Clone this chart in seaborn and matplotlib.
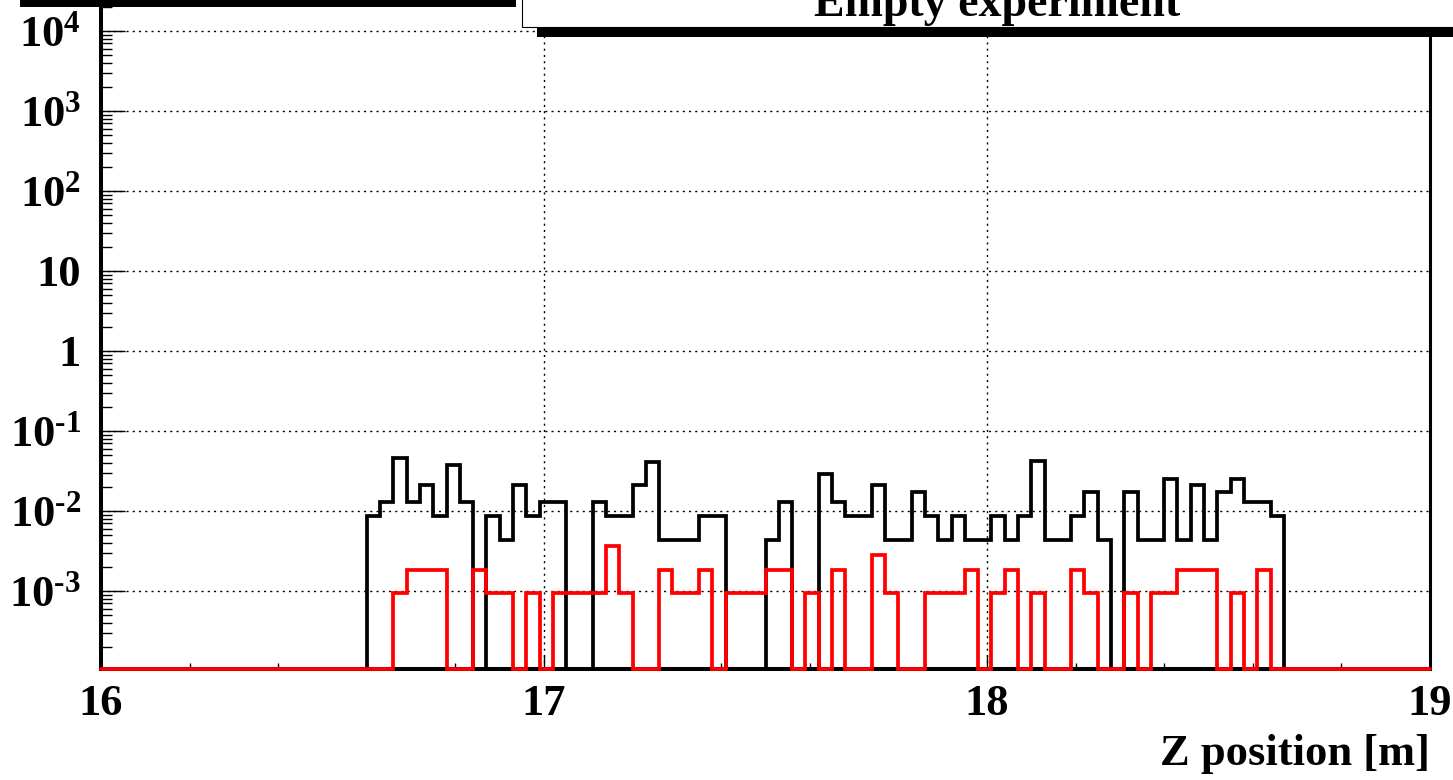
import numpy as np
import pandas as pd
import matplotlib
matplotlib.use('Agg')
import matplotlib.pyplot as plt
import seaborn as sns
from matplotlib.patches import Rectangle
from matplotlib.ticker import LogLocator, MultipleLocator, NullFormatter, FixedLocator

# ---------------- data ----------------
z_min, z_max, n_bins = 16.0, 19.0, 100
first_bin = 20  # first non-empty bin index (z = 16.6)

# black histogram, bins 20..88
black_vals = [0.0086, 0.0128, 0.0456, 0.0128, 0.0214, 0.0086, 0.0376, 0.0128, 0.0,
              0.0086, 0.0043, 0.0214, 0.0086, 0.0128, 0.0128, 0.0, 0.0, 0.0128,
              0.0086, 0.0086, 0.0214, 0.0413, 0.0043, 0.0043, 0.0043, 0.0086, 0.0086,
              0.0, 0.0, 0.0, 0.0043, 0.0128, 0.0, 0.0, 0.0290, 0.0128,
              0.0086, 0.0086, 0.0214, 0.0043, 0.0043, 0.0171, 0.0086, 0.0043, 0.0086,
              0.0043, 0.0043, 0.0086, 0.0043, 0.0086, 0.0420, 0.0043, 0.0043, 0.0086,
              0.0171, 0.0043, 0.0, 0.0171, 0.0043, 0.0043, 0.0250, 0.0043, 0.0214,
              0.0043, 0.0171, 0.0250, 0.0128, 0.0128, 0.0086]

# red histogram, bins 20..88
red_vals = [0.0, 0.0, 0.00095, 0.00185, 0.00185, 0.00185, 0.0, 0.0, 0.00185,
            0.00095, 0.00095, 0.0, 0.00095, 0.0, 0.00095, 0.00095, 0.00095, 0.00095,
            0.0037, 0.00095, 0.0, 0.0, 0.00185, 0.00095, 0.00095, 0.00185, 0.0,
            0.00095, 0.00095, 0.00095, 0.00185, 0.00185, 0.0, 0.00095, 0.0, 0.00185,
            0.0, 0.0, 0.0028, 0.00095, 0.0, 0.0, 0.00095, 0.00095, 0.00095,
            0.00185, 0.0, 0.00095, 0.00185, 0.0, 0.00095, 0.0, 0.0, 0.00185,
            0.00095, 0.0, 0.0, 0.00095, 0.0, 0.00095, 0.00095, 0.00185, 0.00185,
            0.00185, 0.0, 0.00095, 0.0, 0.00185, 0.0]

y_ticks = [1e-3, 1e-2, 1e-1, 1, 10, 1e2, 1e3, 1e4]
y_tick_labels = [r'$10^{\text{-}3}$', r'$10^{\text{-}2}$', r'$10^{\text{-}1}$', '1', '10',
                 r'$10^{2}$', r'$10^{3}$', r'$10^{4}$']
x_ticks = [16, 17, 18, 19]
x_tick_labels = ['16', '17', '18', '19']
title_text = 'Empty experiment'
x_label = 'Z position [m]'

# ---------------- style ----------------
sns.set_theme(style='ticks')
plt.rcParams.update({
    'font.family': ['Liberation Serif', 'DejaVu Serif'],
    'font.weight': 'bold',
    'text.color': 'black',
    'axes.labelcolor': 'black',
    'xtick.color': 'black',
    'ytick.color': 'black',
    'mathtext.fontset': 'custom',
    'mathtext.rm': 'Liberation Serif:bold',
    'mathtext.it': 'Liberation Serif:bold',
    'mathtext.bf': 'Liberation Serif:bold',
    'mathtext.default': 'rm',
})

W, H = 1453, 780
fig = plt.figure(figsize=(W / 100, H / 100), dpi=100)
fig.patch.set_facecolor('white')

y_lo, y_hi = 10 ** -3.975, 10 ** 4.6
ax_left, ax_right = 101, 1430
ax_bottom_px, ax_top_px = 669, -17
ax = fig.add_axes([ax_left / W, 1 - ax_bottom_px / H,
                   (ax_right - ax_left) / W, (ax_bottom_px - ax_top_px) / H])
ax.set_facecolor('white')
ax.set_yscale('log')
ax.set_xlim(z_min, z_max)
ax.set_ylim(y_lo, y_hi)

# full histograms
black = np.zeros(n_bins)
black[first_bin:first_bin + len(black_vals)] = black_vals
red = np.zeros(n_bins)
red[first_bin:first_bin + len(red_vals)] = red_vals
edges = np.linspace(z_min, z_max, n_bins + 1)

def step_frame(vals):
    y = np.append(vals, vals[-1])
    y = np.where(y > 0, y, y_lo)  # empty bins drawn at frame bottom (as ROOT does)
    return pd.DataFrame({'z': edges, 'v': y})

df_b = step_frame(black)
df_r = step_frame(red)

sns.lineplot(data=df_b, x='z', y='v', ax=ax, color='black', lw=2.7,
             drawstyle='steps-post', estimator=None, sort=False, zorder=3)
sns.lineplot(data=df_r, x='z', y='v', ax=ax, color='#ff0000', lw=2.7,
             drawstyle='steps-post', estimator=None, sort=False, zorder=4)
for ln in ax.lines:
    ln.set_clip_on(False)
    ln.set_solid_joinstyle('miter')

ax.set_xlabel('')
ax.set_ylabel('')

# grid
ax.set_axisbelow(True)
ax.grid(True, which='major', axis='both', color='black', lw=1.0,
        linestyle=(0, (1.5, 3)))
ax.grid(False, which='minor')

# ticks
ax.yaxis.set_major_locator(FixedLocator(y_ticks))
ax.set_yticklabels(y_tick_labels)
ax.yaxis.set_minor_locator(LogLocator(base=10, subs=np.arange(2, 10), numticks=100))
ax.yaxis.set_minor_formatter(NullFormatter())
ax.set_xticks(x_ticks)
ax.set_xticklabels(x_tick_labels)
ax.xaxis.set_minor_locator(MultipleLocator(0.2))

ax.tick_params(axis='y', which='major', direction='in', length=17, width=1.0,
               labelsize=32, pad=14.5, left=True, right=False,
               colors='black', labelcolor='black')
ax.tick_params(axis='y', which='minor', direction='in', length=8, width=1.0,
               left=True, right=False)
ax.tick_params(axis='x', which='major', direction='in', length=10, width=1.0,
               labelsize=32, pad=11, bottom=True, top=False,
               colors='black', labelcolor='black')
ax.tick_params(axis='x', which='minor', direction='in', length=4, width=1.0,
               bottom=True, top=False)
for lab in ax.get_xticklabels() + ax.get_yticklabels():
    lab.set_fontweight('bold')
    lab.set_color('black')

# spines
ax.spines['top'].set_visible(False)
for s, w in [('left', 2.9), ('bottom', 2.9), ('right', 2.2)]:
    ax.spines[s].set_visible(True)
    ax.spines[s].set_linewidth(w)
    ax.spines[s].set_color('black')

# title box with shadow (ROOT style), partly cut by the canvas top
fig.patches.append(Rectangle((537 / W, 1 - 37 / H), (W - 537) / W + 0.01, 9 / H,
                             transform=fig.transFigure, facecolor='black',
                             edgecolor='none', zorder=5))
fig.patches.append(Rectangle((522 / W, 1 - 27 / H), (W - 522) / W + 0.01, 27 / H + 0.02,
                             transform=fig.transFigure, facecolor='white',
                             edgecolor='black', lw=0.8, zorder=6))
fig.text(997 / W, 1 - 16 / H, title_text, ha='center', va='baseline',
         fontsize=33, fontweight='bold', color='black', zorder=7)
# shadow of a box above the visible area (top-left)
fig.patches.append(Rectangle((20 / W, 1 - 7 / H), (516 - 20) / W, 7 / H + 0.01,
                             transform=fig.transFigure, facecolor='black',
                             edgecolor='none', zorder=5))

# x-axis title
fig.text(1430 / W, 1 - 765 / H, x_label, ha='right', va='baseline',
         fontsize=32, fontweight='bold', color='black')

fig.savefig('out.png', dpi=100, facecolor='white')
